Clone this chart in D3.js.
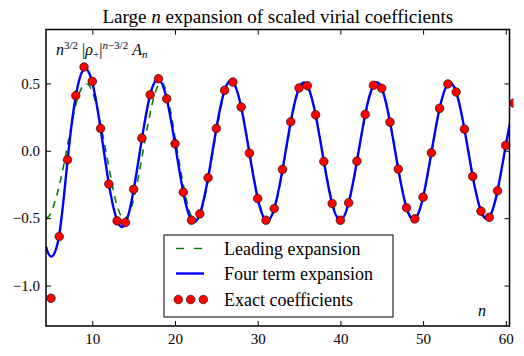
<!DOCTYPE html>
<html>
<head>
<meta charset="utf-8">
<script src="https://cdn.jsdelivr.net/npm/d3@7"></script>
<style>
  body { margin: 0; background: #fff; }
  svg text { font-family: "Liberation Serif", "Times New Roman", Times, Tinos, "DejaVu Serif", "Noto Serif", "Nimbus Roman", serif; fill: #000; }
</style>
</head>
<body>
<script>
// exact coefficients, n = 5 .. 61
var exactN = d3.range(5, 62)
var exactVals = [-1.094, -0.636, -0.067, 0.409, 0.622, 0.515, 0.166, -0.247, -0.520, -0.532,
  -0.285, 0.094, 0.416, 0.535, 0.386, 0.052, -0.307, -0.515, -0.468, -0.200,
  0.166, 0.449, 0.510, 0.325, -0.017, -0.354, -0.515, -0.428, -0.138, 0.215,
  0.466, 0.483, 0.267, -0.079, -0.391, -0.515, -0.386, -0.077, 0.270, 0.486,
  0.464, 0.213, -0.136, -0.423, -0.505, -0.344, -0.015, 0.315, 0.496, 0.436,
  0.161, -0.190, -0.448, -0.493, -0.297, 0.040, 0.354]

// sample points
var curveN = [4.4].concat(d3.range(5, 62))
var fourTerm = [-0.71, -0.785, -0.625, -0.075, 0.405, 0.605, 0.505, 0.165, -0.245, -0.515, -0.54,
  -0.29, 0.09, 0.415, 0.53, 0.385, 0.052, -0.307, -0.515, -0.468, -0.200,
  0.166, 0.449, 0.510, 0.325, -0.017, -0.354, -0.515, -0.428, -0.138, 0.215,
  0.466, 0.483, 0.267, -0.079, -0.391, -0.515, -0.386, -0.077, 0.270, 0.486,
  0.464, 0.213, -0.136, -0.423, -0.505, -0.344, -0.015, 0.315, 0.496, 0.436,
  0.161, -0.190, -0.448, -0.493, -0.297, 0.040, 0.354]
var leading = [-0.50, -0.46, -0.26, 0.04, 0.34, 0.49, 0.44, 0.20, -0.12, -0.41, -0.50,
  -0.36, -0.05, 0.28, 0.49, 0.43, 0.10, -0.25, -0.49, -0.48, -0.22,
  0.14, 0.43, 0.50, 0.33, -0.01, -0.34, -0.51, -0.44, -0.15, 0.20,
  0.46, 0.48, 0.27, -0.07, -0.38, -0.51, -0.39, -0.08, 0.26, 0.48,
  0.47, 0.22, -0.13, -0.42, -0.50, -0.35, -0.02, 0.31, 0.49, 0.44,
  0.16, -0.18, -0.44, -0.49, -0.30, 0.03, 0.35]

var xTicks = [10, 20, 30, 40, 50, 60]
var yTicks = [-1.0, -0.5, 0.0, 0.5]
var legendLabels = ["Leading expansion", "Four term expansion", "Exact coefficients"]

var width = 524, height = 356
var plot = { left: 46, right: 509.5, top: 29.5, bottom: 326 }

var svg = d3.select("body").append("svg")
  .attr("width", width)
  .attr("height", height)

var x = d3.scaleLinear().domain([4.4, 60.45]).range([plot.left, plot.right])
var y = d3.scaleLinear().domain([-1.3, 0.9]).range([plot.bottom, plot.top])

var defs = svg.append("defs")
defs.append("clipPath").attr("id", "clip")
  .append("rect")
  .attr("x", plot.left).attr("y", plot.top)
  .attr("width", plot.right - plot.left).attr("height", plot.bottom - plot.top)
defs.append("clipPath").attr("id", "clipPts")
  .append("rect")
  .attr("x", plot.left).attr("y", plot.top)
  .attr("width", plot.right - plot.left + 4).attr("height", plot.bottom - plot.top)

var line = d3.line()
  .x(function (d) { return x(d[0]) })
  .y(function (d) { return y(d[1]) })
  .curve(d3.curveNatural)

var g = svg.append("g").attr("clip-path", "url(#clip)")

g.append("path")
  .datum(curveN.map(function (n, i) { return [n, leading[i]] }))
  .attr("d", line)
  .attr("fill", "none")
  .attr("stroke", "#008000")
  .attr("stroke-width", 1.6)
  .attr("stroke-dasharray", "7,6")

g.append("path")
  .datum(curveN.map(function (n, i) { return [n, fourTerm[i]] }))
  .attr("d", line)
  .attr("fill", "none")
  .attr("stroke", "#0000ff")
  .attr("stroke-width", 2.4)

svg.append("g").attr("clip-path", "url(#clipPts)")
  .selectAll("circle")
  .data(exactN.map(function (n, i) { return [n, exactVals[i]] }))
  .enter().append("circle")
  .attr("cx", function (d) { return x(d[0]) })
  .attr("cy", function (d) { return y(d[1]) })
  .attr("r", 4.3)
  .attr("fill", "#ff0000")
  .attr("stroke", "#000")
  .attr("stroke-width", 0.6)

// axes, matplotlib style: ticks inward on all four sides
function styleAxis(sel) {
  sel.attr("font-family", null)
  sel.select(".domain").remove()
  sel.selectAll(".tick line").attr("stroke", "#000").attr("stroke-width", 1)
  sel.selectAll("text").style("font-size", "15px")
}

svg.append("g")
  .attr("transform", "translate(0," + plot.bottom + ")")
  .call(d3.axisBottom(x).tickValues(xTicks).tickSize(-5).tickPadding(7).tickFormat(d3.format("d")))
  .call(styleAxis)
svg.append("g")
  .attr("transform", "translate(0," + plot.top + ")")
  .call(d3.axisTop(x).tickValues(xTicks).tickSize(-5).tickFormat(""))
  .call(styleAxis)
svg.append("g")
  .attr("transform", "translate(" + plot.left + ",0)")
  .call(d3.axisLeft(y).tickValues(yTicks).tickSize(-5).tickPadding(6)
    .tickFormat(function (d) { return d3.format(".1f")(d).replace("-", "\u2212") }))
  .call(styleAxis)
svg.append("g")
  .attr("transform", "translate(" + plot.right + ",0)")
  .call(d3.axisRight(y).tickValues(yTicks).tickSize(-5).tickFormat(""))
  .call(styleAxis)

svg.append("rect")
  .attr("x", plot.left).attr("y", plot.top)
  .attr("width", plot.right - plot.left).attr("height", plot.bottom - plot.top)
  .attr("fill", "none")
  .attr("stroke", "#000")
  .attr("stroke-width", 1.5)

// title
var title = svg.append("text")
  .attr("x", (plot.left + plot.right) / 2)
  .attr("y", 23)
  .attr("text-anchor", "middle")
  .style("font-size", "19px")
title.append("tspan").text("Large ")
title.append("tspan").style("font-style", "italic").text("n")
title.append("tspan").text(" expansion of scaled virial coefficients")

// y label inside the plot
var ylab = svg.append("text")
  .attr("x", 56)
  .attr("y", 55)
  .style("font-size", "16px")
ylab.append("tspan").style("font-style", "italic").text("n")
ylab.append("tspan").attr("dy", -6).style("font-size", "11px").text("3/2")
ylab.append("tspan").attr("dy", 6).text(" |")
ylab.append("tspan").style("font-style", "italic").text("\u03c1")
ylab.append("tspan").attr("dy", 3).style("font-size", "11px").text("+")
ylab.append("tspan").attr("dy", -3).text("|")
ylab.append("tspan").attr("dy", -6).style("font-size", "11px").style("font-style", "italic").text("n")
ylab.append("tspan").style("font-size", "11px").text("\u22123/2")
ylab.append("tspan").attr("dy", 6).text(" ")
ylab.append("tspan").style("font-style", "italic").text("A")
ylab.append("tspan").attr("dy", 3).style("font-size", "11px").style("font-style", "italic").text("n")

// x label
svg.append("text")
  .attr("x", 482)
  .attr("y", 316)
  .attr("text-anchor", "middle")
  .style("font-size", "16px")
  .style("font-style", "italic")
  .text("n")

// legend
var legend = svg.append("g").attr("transform", "translate(164,235)")
legend.append("rect")
  .attr("width", 229).attr("height", 82)
  .attr("fill", "#fff")
  .attr("stroke", "#000")
  .attr("stroke-width", 1)

var rowY = [13.5, 38.5, 64.5]
legend.append("line")
  .attr("x1", 12).attr("x2", 40).attr("y1", rowY[0]).attr("y2", rowY[0])
  .attr("stroke", "#008000").attr("stroke-width", 1.6).attr("stroke-dasharray", "8,10")
legend.append("line")
  .attr("x1", 12).attr("x2", 40).attr("y1", rowY[1]).attr("y2", rowY[1])
  .attr("stroke", "#0000ff").attr("stroke-width", 2.4)
legend.selectAll("circle.leg")
  .data([14.3, 26.7, 39.3])
  .enter().append("circle")
  .attr("class", "leg")
  .attr("cx", function (d) { return d })
  .attr("cy", rowY[2])
  .attr("r", 4.3)
  .attr("fill", "#ff0000")
  .attr("stroke", "#000")
  .attr("stroke-width", 0.6)

legend.selectAll("text")
  .data(legendLabels)
  .enter().append("text")
  .attr("x", 60)
  .attr("y", function (d, i) { return rowY[i] })
  .attr("dy", "0.35em")
  .style("font-size", "18px")
  .text(function (d) { return d })
</script>
</body>
</html>
